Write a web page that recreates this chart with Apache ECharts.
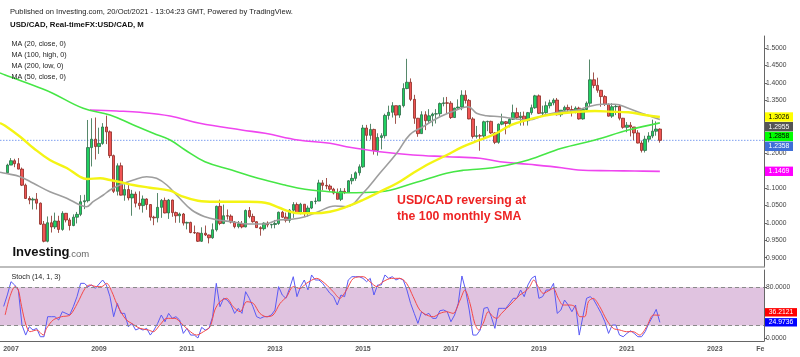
<!DOCTYPE html>
<html><head><meta charset="utf-8">
<script src="https://cdn.jsdelivr.net/npm/echarts@6/dist/echarts.min.js"></script>
<style>html,body{margin:0;padding:0;background:#fff}#c{width:800px;height:357px}</style>
</head><body><div id="c"></div>
<script>
// ---- DATA (USD/CAD monthly, rows = [open, high, low, close]) ----
const candleStartMonth = -1; // months from Jan 2007 (Dec 2006)
const ohlc2006 = [[1.1430,1.1690,1.1410,1.1650]];
const ohlc2007 = [[1.1650,1.1850,1.1650,1.1775],[1.1775,1.1830,1.1590,1.1690],[1.1690,1.1850,1.1530,1.1535],[1.1535,1.1580,1.1050,1.1075],[1.1075,1.1120,1.0680,1.0695],[1.0695,1.0760,1.0530,1.0650],[1.0650,1.0720,1.0380,1.0675],[1.0675,1.0850,1.0380,1.0560],[1.0560,1.0580,0.9940,0.9960],[0.9960,1.0050,0.9440,0.9470],[0.9470,1.0180,0.9440,1.0000],[1.0000,1.0200,0.9720,0.9880]];
const ohlc2008 = [[0.9880,1.0290,0.9820,1.0050],[1.0050,1.0200,0.9710,0.9810],[0.9810,1.0330,0.9770,1.0270],[1.0270,1.0280,1.0010,1.0080],[1.0080,1.0140,0.9780,0.9920],[0.9920,1.0240,0.9900,1.0160],[1.0160,1.0310,0.9980,1.0240],[1.0240,1.0790,1.0190,1.0600],[1.0600,1.0800,1.0390,1.0630],[1.0630,1.2940,1.0580,1.2150],[1.2150,1.2990,1.1610,1.2390],[1.2390,1.3010,1.1810,1.2180]];
const ohlc2009 = [[1.2180,1.2720,1.1970,1.2270],[1.2270,1.2850,1.2230,1.2740],[1.2740,1.3065,1.2250,1.2600],[1.2600,1.2640,1.1850,1.1920],[1.1920,1.1950,1.0850,1.0900],[1.0900,1.1700,1.0780,1.1630],[1.1630,1.1720,1.0780,1.0790],[1.0790,1.1100,1.0630,1.0950],[1.0950,1.1130,1.0640,1.0710],[1.0710,1.0940,1.0200,1.0820],[1.0820,1.0890,1.0440,1.0560],[1.0560,1.0900,1.0380,1.0490]];
const ohlc2010 = [[1.0490,1.0780,1.0290,1.0680],[1.0680,1.0700,1.0370,1.0520],[1.0520,1.0530,1.0060,1.0160],[1.0160,1.0200,0.9930,1.0140],[1.0140,1.0850,1.0010,1.0440],[1.0440,1.0680,1.0140,1.0640],[1.0640,1.0720,1.0270,1.0280],[1.0280,1.0680,1.0110,1.0650],[1.0650,1.0660,1.0170,1.0290],[1.0290,1.0320,1.0000,1.0200],[1.0200,1.0290,1.0000,1.0250],[1.0250,1.0280,0.9920,0.9990]];
const ohlc2011 = [[0.9990,1.0030,0.9810,1.0010],[1.0010,1.0030,0.9700,0.9720],[0.9720,0.9920,0.9680,0.9710],[0.9710,0.9730,0.9450,0.9470],[0.9470,0.9870,0.9450,0.9700],[0.9700,0.9920,0.9620,0.9650],[0.9650,0.9660,0.9410,0.9570],[0.9570,0.9980,0.9540,0.9800],[0.9800,1.0490,0.9750,1.0470],[1.0470,1.0660,0.9930,0.9980],[0.9980,1.0520,0.9960,1.0200],[1.0200,1.0380,1.0090,1.0190]];
const ohlc2012 = [[1.0190,1.0240,0.9980,1.0020],[1.0020,1.0050,0.9840,0.9890],[0.9890,1.0050,0.9840,0.9970],[0.9970,1.0050,0.9840,0.9880],[0.9880,1.0380,0.9870,1.0350],[1.0350,1.0450,1.0130,1.0180],[1.0180,1.0260,1.0000,1.0030],[1.0030,1.0040,0.9850,0.9860],[0.9860,0.9900,0.9630,0.9830],[0.9830,1.0010,0.9780,0.9990],[0.9990,1.0040,0.9870,0.9940],[0.9940,0.9970,0.9840,0.9950]];
const ohlc2013 = [[0.9950,1.0080,0.9840,0.9980],[0.9980,1.0320,0.9940,1.0300],[1.0300,1.0340,1.0140,1.0160],[1.0160,1.0290,1.0010,1.0070],[1.0070,1.0390,1.0000,1.0360],[1.0360,1.0590,1.0140,1.0520],[1.0520,1.0580,1.0260,1.0280],[1.0280,1.0570,1.0240,1.0530],[1.0530,1.0530,1.0180,1.0300],[1.0300,1.0490,1.0180,1.0420],[1.0420,1.0620,1.0390,1.0610],[1.0610,1.0720,1.0530,1.0620]];
const ohlc2014 = [[1.0620,1.1230,1.0620,1.1140],[1.1140,1.1220,1.0930,1.1070],[1.1070,1.1280,1.0960,1.1050],[1.1050,1.1100,1.0880,1.0960],[1.0960,1.1000,1.0810,1.0850],[1.0850,1.0980,1.0670,1.0670],[1.0670,1.0990,1.0620,1.0900],[1.0900,1.0990,1.0820,1.0870],[1.0870,1.1220,1.0850,1.1200],[1.1200,1.1390,1.1100,1.1270],[1.1270,1.1470,1.1200,1.1430],[1.1430,1.1670,1.1350,1.1600]];
const ohlc2015 = [[1.1600,1.2800,1.1570,1.2710],[1.2710,1.2800,1.2350,1.2500],[1.2500,1.2830,1.2380,1.2670],[1.2670,1.2690,1.1950,1.2070],[1.2070,1.2560,1.1920,1.2440],[1.2440,1.2560,1.2100,1.2490],[1.2490,1.3120,1.2410,1.3070],[1.3070,1.3350,1.2950,1.3160],[1.3160,1.3450,1.3010,1.3350],[1.3350,1.3350,1.2830,1.3080],[1.3080,1.3370,1.3000,1.3350],[1.3350,1.3990,1.3300,1.3840]];
const ohlc2016 = [[1.3840,1.4690,1.3820,1.4020],[1.4020,1.4130,1.3480,1.3530],[1.3530,1.3660,1.2830,1.2990],[1.2990,1.3000,1.2460,1.2550],[1.2550,1.3190,1.2540,1.3090],[1.3090,1.3190,1.2650,1.2920],[1.2920,1.3250,1.2830,1.3060],[1.3060,1.3150,1.2760,1.3110],[1.3110,1.3250,1.2840,1.3120],[1.3120,1.3440,1.3030,1.3410],[1.3410,1.3590,1.3330,1.3430],[1.3430,1.3600,1.3120,1.3420]];
const ohlc2017 = [[1.3420,1.3480,1.2970,1.3010],[1.3010,1.3290,1.3000,1.3280],[1.3280,1.3530,1.3260,1.3310],[1.3310,1.3790,1.3220,1.3650],[1.3650,1.3790,1.3410,1.3500],[1.3500,1.3540,1.2960,1.2970],[1.2970,1.3020,1.2410,1.2470],[1.2470,1.2770,1.2410,1.2490],[1.2490,1.2540,1.2060,1.2480],[1.2480,1.2920,1.2420,1.2890],[1.2890,1.2920,1.2620,1.2900],[1.2900,1.2920,1.2540,1.2570]];
const ohlc2018 = [[1.2570,1.2590,1.2250,1.2300],[1.2300,1.2840,1.2260,1.2820],[1.2820,1.3120,1.2790,1.2890],[1.2890,1.2910,1.2530,1.2840],[1.2840,1.3000,1.2730,1.2960],[1.2960,1.3380,1.2940,1.3150],[1.3150,1.3290,1.2960,1.3010],[1.3010,1.3170,1.2780,1.3050],[1.3050,1.3180,1.2780,1.2920],[1.2920,1.3170,1.2780,1.3150],[1.3150,1.3380,1.3090,1.3290],[1.3290,1.3660,1.3260,1.3630]];
const ohlc2019 = [[1.3630,1.3670,1.3110,1.3130],[1.3130,1.3350,1.3070,1.3150],[1.3150,1.3470,1.3120,1.3350],[1.3350,1.3520,1.3270,1.3430],[1.3430,1.3560,1.3360,1.3510],[1.3510,1.3570,1.3070,1.3090],[1.3090,1.3220,1.3030,1.3220],[1.3220,1.3350,1.3140,1.3300],[1.3300,1.3380,1.3130,1.3240],[1.3240,1.3350,1.3040,1.3160],[1.3160,1.3330,1.3130,1.3280],[1.3280,1.3320,1.2950,1.2970]];
const ohlc2020 = [[1.2970,1.3270,1.2950,1.3240],[1.3240,1.3470,1.3210,1.3420],[1.3420,1.4670,1.3310,1.4090],[1.4090,1.4300,1.3850,1.3930],[1.3930,1.4150,1.3720,1.3790],[1.3790,1.3800,1.3320,1.3610],[1.3610,1.3650,1.3340,1.3390],[1.3390,1.3410,1.3040,1.3050],[1.3050,1.3420,1.3000,1.3320],[1.3320,1.3390,1.3080,1.3330],[1.3330,1.3370,1.2930,1.2990],[1.2990,1.3000,1.2690,1.2730]];
const ohlc2021 = [[1.2730,1.2880,1.2590,1.2790],[1.2790,1.2880,1.2470,1.2740],[1.2740,1.2740,1.2360,1.2570],[1.2570,1.2650,1.2270,1.2280],[1.2280,1.2350,1.2010,1.2070],[1.2070,1.2490,1.2010,1.2390],[1.2390,1.2590,1.2300,1.2480],[1.2480,1.2950,1.2420,1.2620],[1.2620,1.2900,1.2490,1.2680],[1.2680,1.2700,1.2290,1.2358]];

// Moving averages: [month from Jan 2007, value]
const ma20close = [[-3,1.1447],[-1.6,1.1415],[2.5,1.1318],[6.1,1.1129],[10.6,1.0888],[15.2,1.0700],[18.8,1.0508],[20.6,1.0459],[22.4,1.0602],[25.2,1.0794],[27,1.0937],[29.7,1.1080],[33.4,1.1223],[37,1.1318],[39.7,1.1272],[42.5,1.1080],[45.6,1.0745],[49.3,1.0365],[52.9,1.0173],[56.5,1.0079],[60.2,1.0030],[64.7,0.9964],[69.3,0.9964],[72.9,1.0079],[76.5,1.0099],[80.2,1.0173],[83.8,1.0316],[88.4,1.0479],[91.5,1.0459],[96,1.0843],[100.6,1.1415],[105.2,1.1987],[108.8,1.2520],[112.4,1.2748],[117,1.3034],[121.5,1.3226],[124.7,1.3320],[127,1.3132],[129.7,1.3063],[133.4,1.3034],[136.5,1.2989],[141.1,1.2940],[145.6,1.3083],[150.2,1.3177],[154.7,1.3226],[157.4,1.3320],[161.1,1.3389],[164.7,1.3389],[168.4,1.3275],[172,1.3132],[177,1.2955]];
const ma50close = [[-3,1.2854],[-1.6,1.2777],[2.5,1.2462],[6.1,1.2139],[10.6,1.1795],[15.2,1.1567],[18.8,1.1318],[20.7,1.1252],[24.3,1.1272],[27,1.1223],[29.7,1.1166],[33.3,1.1080],[37.9,1.1003],[43.4,1.0917],[46.5,1.0765],[51,1.0631],[55.6,1.0602],[60.2,1.0602],[64.6,1.0602],[69.3,1.0574],[73.4,1.0422],[76.1,1.0316],[78.8,1.0270],[82.4,1.0270],[87,1.0316],[91.6,1.0459],[96,1.0651],[100.6,1.0888],[105.3,1.1129],[109.6,1.1415],[114.3,1.1701],[118.9,1.1938],[123.3,1.2176],[127.9,1.2368],[132,1.2540],[136.5,1.2800],[141.1,1.2950],[145.6,1.3063],[150.2,1.3132],[154.7,1.3177],[159.3,1.3197],[163.8,1.3177],[168.4,1.3160],[172.9,1.3083],[177,1.3026]];
const ma100high = [[-3,1.4285],[-1.6,1.4227],[8.7,1.3827],[11.5,1.3700],[19.7,1.3275],[27,1.3083],[33.4,1.2797],[38.8,1.2559],[43.4,1.2368],[47.5,1.2082],[52.9,1.1747],[60.2,1.1509],[67.4,1.1272],[74.7,1.1080],[80.2,1.0957],[84.7,1.0908],[91.5,1.0860],[100.6,1.0888],[109.7,1.1129],[118.8,1.1415],[123.3,1.1500],[128,1.1540],[133,1.1600],[141.1,1.1795],[150.2,1.2130],[159.3,1.2368],[168.4,1.2654],[177,1.2858]];
const ma200low = [[21.5,1.3226],[28.8,1.3197],[35.2,1.3160],[43.4,1.3054],[51.5,1.2845],[62.9,1.2654],[69.3,1.2559],[78.3,1.2368],[87,1.2273],[91.5,1.2176],[100.6,1.2033],[109.7,1.1938],[118.8,1.1890],[127.9,1.1844],[133.4,1.1747],[141.1,1.1672],[150.2,1.1575],[154.7,1.1509],[163.8,1.1489],[170.2,1.1481],[177,1.1469]];

// Stochastic (14,1,3): %K monthly from Nov 2006, %D sampled
const stochStartMonth = -2;
const stochK = [50,68,88.8,83.6,75.7,20.8,5.1,18.2,13,15.6,2.5,2.5,
 33.9,33.9,33.9,28.7,41.7,39.1,36.5,49.6,65.3,86.2,
 86.2,81,83.6,78.3,85,91.4,83.6,65.3,33.9,54.8,
 39.1,39.1,18.2,23.4,13,15.6,13,15.6,5.1,13,
 23.4,36.5,26,39.1,31.3,33.9,28.7,7.7,15.6,5.1,
 5.1,0.5,17.2,13,15.6,33.9,86.2,49.6,62.7,60,
 52.2,39.1,47,39.1,73.1,62.7,49.6,33.9,31.3,33.9,
 33.9,36.5,44.3,81,67.9,62.7,78.3,96.6,65.3,81,
 91.4,76,99.3,91.4,91.4,86.2,78.3,70.5,65.3,52.2,
 67.9,65.3,91.4,96.6,96.6,96.6,94,88.8,94,67.9,
 83.6,83.6,99.3,94,96.6,91.4,94,91.4,75.7,54.8,
 39.1,23.4,41.7,36.5,39.1,31.3,31.3,43.3,44.4,41.7,
 26,36.5,54.8,97.7,75.7,44.4,5.1,5.1,13,47,
 48.5,33.9,15.6,47,47,47,54.8,62.7,62.7,75.7,
 65.3,83.6,94,97.7,62.7,65.3,75.7,75.7,86.2,39.1,
 44.4,60,52.2,41.7,52.2,5.1,33.9,62.7,65.3,60,
 49.6,39.1,26,7.7,20.8,20.8,5.1,2.5,7.7,11.9,
 7.7,2.5,2.5,10.4,23.4,33.9,45.4,24.9736];
const stochD = [[-1.6,36.5],[-0.3,65.3],[1.1,81],[2,75.7],[2.9,49.6],[4.1,20.8],[5.2,10.4],[7,13],[8.8,5.1],[9.7,15.6],[11.5,28.7],[13.8,33.9],[16.1,36.5],[18.1,54.8],[20.2,78.3],[21.5,83.6],[23.4,81],[24.7,81],[26.1,86.2],[27.5,73.1],[28.8,54.8],[30.2,39.1],[31.5,28.7],[32.9,23.4],[35.2,15.6],[37.5,13],[38.8,10.4],[40.6,20.8],[42.5,31.3],[44.7,31.3],[46.5,23.4],[48.4,13],[50.6,5.1],[52.5,10.4],[54.3,18.2],[55.6,44.3],[57,57.4],[58.8,62.7],[60.6,49.6],[62.5,41.7],[64.3,57.4],[66.1,54.8],[67.9,39.1],[69.7,33.9],[71.5,36.5],[73.4,54.8],[75.2,65.3],[77,81],[78.8,78.3],[80.6,86.2],[83.4,94],[85.6,86.2],[87.9,73.1],[89.7,62.7],[91.5,75.7],[93.4,94],[96.1,96.6],[97.9,88.8],[99.8,81],[101.5,88.8],[103.8,94],[106.1,94],[107.9,86.2],[109.7,65.3],[111.5,44.4],[113.4,36.5],[115.2,33.9],[117,39.1],[118.8,41.7],[120.6,39.1],[122.5,60],[123.8,75.7],[125.2,54.8],[126.5,23.4],[127.6,13],[128.8,23.4],[130.2,41.7],[131.5,33.9],[132.5,31.3],[133.8,39.1],[135.2,47],[137,57.4],[138.8,67.9],[140.2,73.1],[141.5,81],[142.6,91.4],[143.8,81],[145.2,70.5],[147,75.7],[147.9,78.3],[149.3,62.7],[150.6,52.2],[152.5,52.2],[153.8,49.6],[155.2,33.9],[156.5,33.9],[157.5,57.4],[158.8,62.7],[160.6,49.6],[162.5,28.7],[164.3,15.6],[166.1,13],[167.9,10.4],[169.7,10.4],[171.5,5.1],[173.4,18.2],[175.2,36.5],[177,36.2121]];

// Axis ticks / labels
const xTickValues = [2007,2009,2011,2013,2015,2017,2019,2021,2023,2024 + 1/12];
const xTickLabels = ['2007','2009','2011','2013','2015','2017','2019','2021','2023','Feb'];
const priceTicks = [0.90,0.95,1.00,1.05,1.10,1.15,1.20,1.25,1.30,1.35,1.40,1.45,1.50];
const stochTicks = [0,80];
const stochBand = [20,80];
const priceTags = [['1.3026','#ffff00','#000'],['1.2955','#555555','#fff'],['1.2858','#00ff00','#000'],['1.2358','#3f6fd8','#fff'],['1.1469','#ff00ff','#fff']];
const stochTags = [['36.2121','#ff0000','#fff'],['24.9736','#0000ff','#fff']];
const legendLines = ['MA (20, close, 0)','MA (100, high, 0)','MA (200, low, 0)','MA (50, close, 0)'];

// ---- BUILD ----
const F = '"Liberation Sans", Arial, sans-serif';
const toYear = m => 2007 + m / 12;
const X_MIN = 2006.75, X_MAX = 2024.117;
const ohlcAll = [].concat(ohlc2006, ohlc2007, ohlc2008, ohlc2009, ohlc2010, ohlc2011, ohlc2012, ohlc2013, ohlc2014, ohlc2015, ohlc2016, ohlc2017, ohlc2018, ohlc2019, ohlc2020, ohlc2021);
const candleData = ohlcAll.map((r, i) => [toYear(candleStartMonth + i), r[0], r[3], r[2], r[1]]);
const lastClose = ohlcAll[ohlcAll.length - 1][3];
const pts = arr => arr.map(p => [toYear(p[0]), p[1]]);
const kData = stochK.map((v, i) => [toYear(stochStartMonth + i), v]);

const chart = echarts.init(document.getElementById('c'), null, {renderer: 'canvas'});

function maSeries(name, data, color, width, z) {
  return {name, type: 'line', xAxisIndex: 0, yAxisIndex: 0, data: pts(data), smooth: 0.4,
    showSymbol: false, symbol: 'none', z, silent: true, lineStyle: {color, width}};
}

const graphics = [];
graphics.push({type: 'text', x: 10, y: 11.5, z: 100, style: {text: 'Published on Investing.com, 20/Oct/2021 - 13:04:23 GMT, Powered by TradingView.', font: '7.6px ' + F, fill: '#222', verticalAlign: 'middle'}});
graphics.push({type: 'text', x: 10, y: 25, z: 100, style: {text: 'USD/CAD, Real-timeFX:USD/CAD, M', font: 'bold 7.8px ' + F, fill: '#111', verticalAlign: 'middle'}});
legendLines.forEach((t, i) => graphics.push({type: 'text', x: 11.5, y: 44.3 + i * 10.8, z: 100, style: {text: t, font: '7.2px ' + F, fill: '#222', verticalAlign: 'middle'}}));
graphics.push({type: 'text', x: 11.5, y: 277, z: 100, style: {text: 'Stoch (14, 1, 3)', font: '7.2px ' + F, fill: '#222', verticalAlign: 'middle'}});
graphics.push({type: 'text', x: 397, y: 201, z: 100, style: {text: 'USD/CAD reversing at', font: 'bold 12.3px ' + F, fill: '#ee2424', verticalAlign: 'middle'}});
graphics.push({type: 'text', x: 397, y: 216.5, z: 100, style: {text: 'the 100 monthly SMA', font: 'bold 12.3px ' + F, fill: '#ee2424', verticalAlign: 'middle'}});
graphics.push({type: 'text', x: 12.5, y: 252.5, z: 100, style: {text: 'Investing', font: 'bold 13px ' + F, fill: '#111', verticalAlign: 'middle'}});
graphics.push({type: 'text', x: 68.5, y: 254, z: 100, style: {text: '.com', font: '9.5px ' + F, fill: '#666', verticalAlign: 'middle'}});
graphics.push({type: 'rect', x: 764.5, y: 342, z: 100, shape: {width: 36, height: 15}, style: {fill: '#fff'}});
const priceTagY = [117, 126.7, 136.5, 146.3, 171.3];
priceTags.forEach((t, i) => {
  graphics.push({type: 'rect', x: 765, y: priceTagY[i] - 4.7, z: 100, shape: {width: 28, height: 9.4}, style: {fill: t[1]}});
  graphics.push({type: 'text', x: 779, y: priceTagY[i], z: 101, style: {text: t[0], font: '6.8px ' + F, fill: t[2], align: 'center', verticalAlign: 'middle'}});
});
const stochTagY = [312.3, 322.3];
stochTags.forEach((t, i) => {
  graphics.push({type: 'rect', x: 765, y: stochTagY[i] - 4.2, z: 100, shape: {width: 32, height: 8.4}, style: {fill: t[1]}});
  graphics.push({type: 'text', x: 781, y: stochTagY[i], z: 101, style: {text: t[0], font: '6.8px ' + F, fill: t[2], align: 'center', verticalAlign: 'middle'}});
});

const option = {
  backgroundColor: '#ffffff',
  animation: false,
  grid: [
    {left: 0, right: 36, top: 36, height: 231},
    {left: 0, right: 36, top: 270, height: 71}
  ],
  xAxis: [
    {type: 'value', gridIndex: 0, min: X_MIN, max: X_MAX, axisLabel: {show: false}, axisTick: {show: false}, splitLine: {show: false},
      axisLine: {show: true, onZero: false, lineStyle: {color: '#a8a8a8', width: 1.5}}},
    {type: 'value', gridIndex: 1, min: X_MIN, max: X_MAX, splitLine: {show: false}, axisTick: {show: false},
      axisLine: {show: true, onZero: false, lineStyle: {color: '#666', width: 1}},
      axisLabel: {customValues: xTickValues, margin: 5, fontFamily: F, fontSize: 7, fontWeight: 'bold', color: '#555',
        formatter: v => { const i = xTickValues.findIndex(t => Math.abs(t - v) < 1e-6); return i >= 0 ? xTickLabels[i] : ''; }}}
  ],
  yAxis: [
    {type: 'value', gridIndex: 0, position: 'right', min: 0.8734, max: 1.5343, splitLine: {show: false},
      axisLine: {show: true, lineStyle: {color: '#666'}},
      axisTick: {show: true, length: 3, customValues: priceTicks, lineStyle: {color: '#666'}},
      axisLabel: {customValues: priceTicks, margin: 2, fontFamily: F, fontSize: 6.7, color: '#444', formatter: v => v.toFixed(4)}},
    {type: 'value', gridIndex: 1, position: 'right', min: -4.2, max: 107.1, splitLine: {show: false},
      axisLine: {show: true, lineStyle: {color: '#666'}},
      axisTick: {show: true, length: 3, customValues: stochTicks, lineStyle: {color: '#666'}},
      axisLabel: {customValues: stochTicks, margin: 2, fontFamily: F, fontSize: 6.7, color: '#444', formatter: v => v.toFixed(4)}}
  ],
  series: [
    {name: 'USD/CAD', type: 'candlestick', xAxisIndex: 0, yAxisIndex: 0, data: candleData, encode: {x: 0, y: [1, 2, 3, 4]},
      barWidth: 3, z: 2, silent: true,
      itemStyle: {color: '#1fd060', color0: '#f05454', borderColor: '#2c6a45', borderColor0: '#8a2a22', borderWidth: 0.8}},
    {name: 'last', type: 'line', xAxisIndex: 0, yAxisIndex: 0, data: [[X_MIN, lastClose], [X_MAX, lastClose]],
      symbol: 'none', showSymbol: false, z: 1, silent: true,
      lineStyle: {type: [1.5, 1.5], color: '#7d9ff0', width: 1}},
    maSeries('MA200 low', ma200low, '#ef45ef', 1.6, 3),
    maSeries('MA100 high', ma100high, '#46e646', 1.6, 3),
    maSeries('MA20 close', ma20close, '#9e9e9e', 1.6, 4),
    maSeries('MA50 close', ma50close, '#f4f414', 2.4, 4),
    {name: 'band', type: 'line', xAxisIndex: 1, yAxisIndex: 1, data: [[X_MIN, 50]], symbol: 'none', showSymbol: false, z: 1, silent: true,
      lineStyle: {opacity: 0},
      markArea: {silent: true, itemStyle: {color: '#e0c3e0'}, data: [[{yAxis: stochBand[0]}, {yAxis: stochBand[1]}]]},
      markLine: {silent: true, symbol: ['none', 'none'], label: {show: false}, lineStyle: {type: [4, 3], color: '#8a8a8a', width: 1},
        data: [{yAxis: stochBand[0]}, {yAxis: stochBand[1]}]}},
    {name: '%K', type: 'line', xAxisIndex: 1, yAxisIndex: 1, data: kData, symbol: 'none', showSymbol: false, z: 3, silent: true,
      lineStyle: {color: '#5a5af5', width: 1}},
    {name: '%D', type: 'line', xAxisIndex: 1, yAxisIndex: 1, data: pts(stochD), symbol: 'none', showSymbol: false, smooth: 0.3, z: 4, silent: true,
      lineStyle: {color: '#f54848', width: 1}}
  ],
  graphic: graphics
};
chart.setOption(option);
</script></body></html>
